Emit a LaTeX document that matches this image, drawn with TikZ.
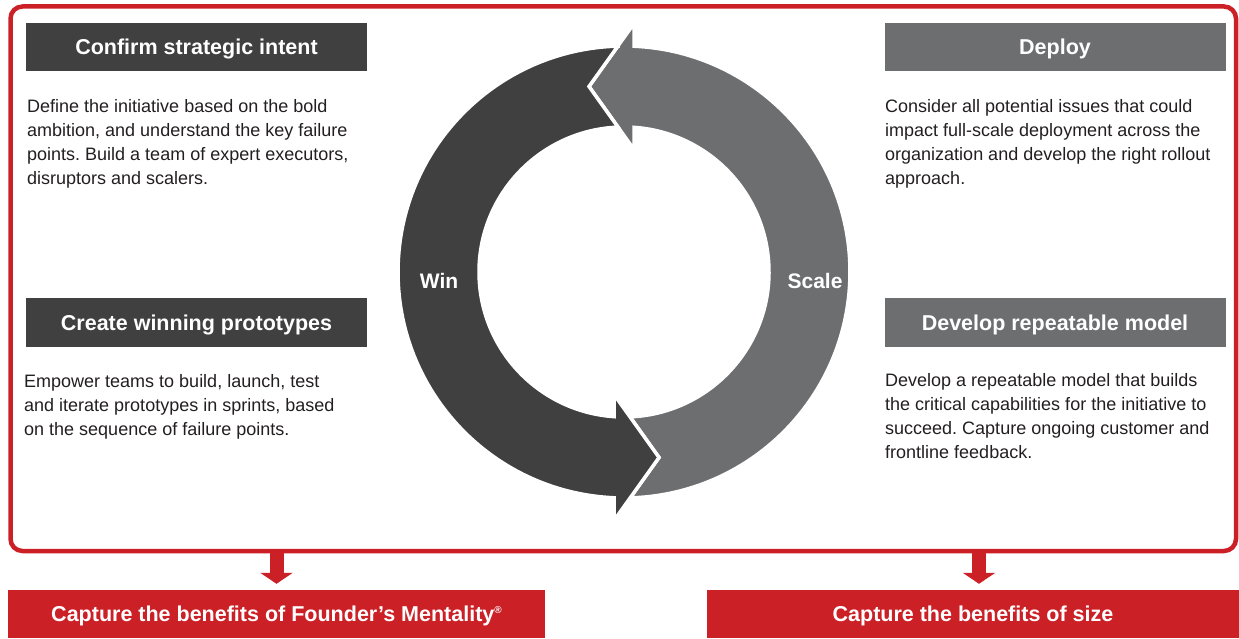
\documentclass[tikz,border=0pt]{standalone}
\usepackage{fontspec}
\setmainfont{Liberation Sans}
\usetikzlibrary{arrows.meta}
\definecolor{cred}{RGB}{204,32,39}
\definecolor{cdark}{RGB}{64,64,64}
\definecolor{cgray}{RGB}{109,110,112}
\definecolor{ctext}{RGB}{35,31,32}
\frenchspacing
\begin{document}
\begin{tikzpicture}[x=1pt,y=1pt,
 header/.style={minimum width=341pt, minimum height=48pt, inner sep=0pt, text height=15.4pt, text depth=0pt, text=white, font=\fontsize{21.5}{26}\selectfont\bfseries},
 darkhead/.style={header, fill=cdark},
 grayhead/.style={header, fill=cgray},
 body/.style={anchor=north west, inner sep=0pt, align=left, text=ctext, font=\fontsize{18}{24}\selectfont},
 benefit/.style={fill=cred, text=white, minimum height=48pt, inner sep=0pt, text height=15.4pt, text depth=0pt, font=\fontsize{21.5}{26}\selectfont\bfseries},
 ringlabel/.style={text=white, font=\fontsize{21}{25}\selectfont\bfseries},
 downarrow/.style={draw=cred, line width=14pt, -{Triangle[width=32pt,length=11pt,fill=cred]}},
 ringpart/.style={draw=white, line width=3.5pt, line join=miter}
]
\useasboundingbox (0,0) rectangle (1239,638);
% frame
\node[draw=cred, line width=4.5pt, rounded corners=12pt, minimum width=1225.5pt, minimum height=544.5pt, inner sep=0pt] (frame) at (623.25,359.25) {};
% headers
\node[darkhead] (hA) at (196.5,591) {Confirm strategic intent};
\node[darkhead] (hB) at (196.5,315.5) {Create winning prototypes};
\node[grayhead] (hC) at (1055,591) {Deploy};
\node[grayhead] (hD) at (1055,315.5) {Develop repeatable model};
% body texts
\node[body] (tA) at (27,539) {Define the initiative based on the bold\\ambition, and understand the key failure\\points. Build a team of expert executors,\\disruptors and scalers.};
\node[body] (tB) at (24,264) {Empower teams to build, launch, test\\and iterate prototypes in sprints, based\\on the sequence of failure points.};
\node[body] (tC) at (885,539) {Consider all potential issues that could\\impact full-scale deployment across the\\organization and develop the right rollout\\approach.};
\node[body] (tD) at (885,265) {Develop a repeatable model that builds\\the critical capabilities for the initiative to\\succeed. Capture ongoing customer and\\frontline feedback.};
% cycle
\begin{scope}[shift={(624,366)}]
\fill[cgray, ringpart] (6.1,-225.95) -- (35,-185.5) -- (6.0,-144.87)
  arc[start angle=-87.63, end angle=86.05, radius=145] -- (10,122.5) -- (-35,185.5) -- (10,248.5) -- (10,225.78)
  arc[start angle=87.46, end angle=-88.45, radius=226] -- cycle;
\fill[cdark, ringpart] (-6.1,225.95) -- (-35,185.5) -- (-6.0,144.87)
  arc[start angle=92.37, end angle=266.05, radius=145] -- (-10,-122.5) -- (35,-185.5) -- (-10,-248.5) -- (-10,-225.78)
  arc[start angle=267.46, end angle=91.55, radius=226] -- cycle;
\end{scope}
\node[ringlabel] (win) at (439,357) {Win};
\node[ringlabel] (scale) at (815,357) {Scale};
% bottom boxes
\node[benefit, minimum width=537pt] (bL) at (276.5,24) {Capture the benefits of Founder’s Mentality\raisebox{8pt}{\fontsize{10}{10}\selectfont ®}};
\node[benefit, minimum width=532pt] (bR) at (973,24) {Capture the benefits of size};
\draw[downarrow] (frame.south -| bL.north) -- ([yshift=6pt]bL.north);
\draw[downarrow] ([xshift=6pt]frame.south -| bR.north) -- ([xshift=6pt,yshift=6pt]bR.north);
\end{tikzpicture}
\end{document}
